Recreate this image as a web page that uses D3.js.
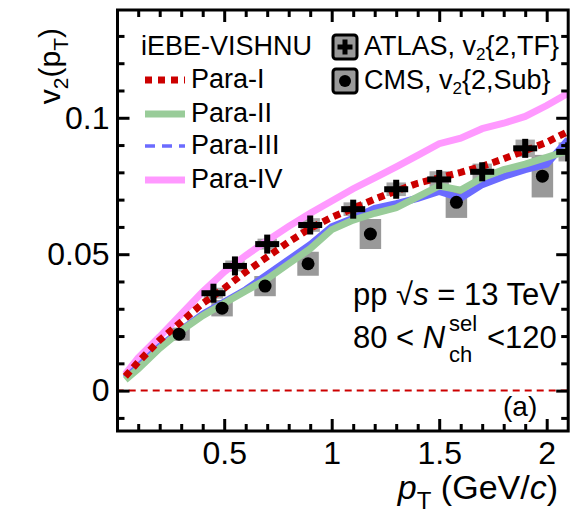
<!DOCTYPE html>
<html>
<head>
<meta charset="utf-8">
<script src="https://cdn.jsdelivr.net/npm/d3@7"></script>
<style>
  body { margin: 0; background: #fff; }
  svg { display: block; font-family: "Liberation Sans", Arial, Helvetica, sans-serif; }
</style>
</head>
<body>
<svg id="chart" width="583" height="518"></svg>
<script>
// iEBE-VISHNU curves, transverse momentum grid (GeV/c)
const modelPt = [0.04, 0.1, 0.2, 0.3, 0.4, 0.5, 0.6, 0.7, 0.8, 0.9, 1.0, 1.1, 1.2, 1.3, 1.4, 1.5, 1.6, 1.7, 1.8, 1.9, 2.0, 2.1];
const paraI   = [0.0052, 0.0105, 0.0185, 0.0252, 0.0320, 0.0375, 0.0435, 0.0490, 0.0545, 0.0595, 0.0635, 0.0668, 0.0702, 0.0732, 0.0760, 0.0780, 0.0800, 0.0822, 0.0850, 0.0880, 0.0910, 0.0950];
const paraII  = [0.0040, 0.0080, 0.0155, 0.0220, 0.0275, 0.0320, 0.0365, 0.0410, 0.0465, 0.0520, 0.0590, 0.0625, 0.0650, 0.0670, 0.0710, 0.0750, 0.0735, 0.0780, 0.0810, 0.0830, 0.0855, 0.0880];
const paraIII = [0.0045, 0.0088, 0.0162, 0.0222, 0.0280, 0.0325, 0.0370, 0.0425, 0.0480, 0.0535, 0.0600, 0.0632, 0.0668, 0.0685, 0.0705, 0.0730, 0.0705, 0.0755, 0.0785, 0.0810, 0.0830, 0.0920];
const paraIV  = [0.0060, 0.0120, 0.0198, 0.0280, 0.0362, 0.0435, 0.0495, 0.0550, 0.0602, 0.0650, 0.0695, 0.0740, 0.0780, 0.0820, 0.0862, 0.0905, 0.0925, 0.0960, 0.0980, 0.1005, 0.1045, 0.1090];

// ATLAS v2{2,TF}
const atlasPt  = [0.45, 0.55, 0.7, 0.9, 1.1, 1.3, 1.5, 1.7, 1.9, 2.1];
const atlasV2  = [0.0357, 0.0457, 0.0537, 0.0607, 0.0665, 0.0738, 0.0774, 0.0802, 0.0888, 0.0875];
const atlasSys = [0.0020, 0.0020, 0.0020, 0.0025, 0.0025, 0.0025, 0.0030, 0.0030, 0.0032, 0.0035];

// CMS v2{2,Sub}
const cmsPt  = [0.29, 0.49, 0.69, 0.89, 1.18, 1.58, 1.98];
const cmsV2  = [0.0207, 0.0302, 0.0383, 0.0465, 0.0574, 0.0690, 0.0786];
const cmsSys = [0.0024, 0.0030, 0.0037, 0.0044, 0.0055, 0.0057, 0.0078];

// axis ticks
const xTickValues = [0.5, 1, 1.5, 2];
const xTickLabels = ["0.5", "1", "1.5", "2"];
const yTickValues = [0, 0.05, 0.1];
const yTickLabels = ["0", "0.05", "0.1"];

const seriesNames = ["Para-I", "Para-II", "Para-III", "Para-IV"];

const svg = d3.select("#chart");
const frame = { left: 117.5, right: 568.2, top: 10, bottom: 431 };

const x = d3.scaleLinear().domain([0, 2.1]).range([116.7, 568.2]);
const y = d3.scaleLinear().domain([-0.0148, 0.1395]).range([431, 10]);

// clip region = plot frame
svg.append("defs").append("clipPath").attr("id", "plotClip")
  .append("rect")
  .attr("x", frame.left).attr("y", frame.top)
  .attr("width", frame.right - frame.left).attr("height", frame.bottom - frame.top);

const plot = svg.append("g").attr("clip-path", "url(#plotClip)");

// zero reference
plot.append("line")
  .attr("x1", x(0)).attr("x2", x(2.1))
  .attr("y1", y(0)).attr("y2", y(0))
  .attr("stroke", "#cc0000").attr("stroke-width", 2)
  .attr("stroke-dasharray", "7,5");

// systematic boxes
plot.selectAll("rect.cmsSys").data(cmsPt).join("rect")
  .attr("class", "cmsSys")
  .attr("x", d => x(d - 0.05))
  .attr("width", d => x(d + 0.05) - x(d - 0.05))
  .attr("y", (d, i) => y(cmsV2[i] + cmsSys[i]))
  .attr("height", (d, i) => y(cmsV2[i] - cmsSys[i]) - y(cmsV2[i] + cmsSys[i]))
  .attr("fill", "#999999");

plot.selectAll("rect.atlasSys").data(atlasPt).join("rect")
  .attr("class", "atlasSys")
  .attr("x", d => x(d - 0.045))
  .attr("width", d => x(d + 0.045) - x(d - 0.045))
  .attr("y", (d, i) => y(atlasV2[i] + atlasSys[i]))
  .attr("height", (d, i) => y(atlasV2[i] - atlasSys[i]) - y(atlasV2[i] + atlasSys[i]))
  .attr("fill", "#a6a6a6");

// model curves
const line = d3.line().x(d => x(d[0])).y(d => y(d[1]));
const curves = [
  { vals: paraIV,  color: "#ff99ff", width: 7, dash: null },
  { vals: paraIII, color: "#6b6bff", width: 7, dash: null },
  { vals: paraII,  color: "#99cc99", width: 7, dash: null },
  { vals: paraI,   color: "#cc0000", width: 7, dash: "7,5" }
];
curves.forEach(c => {
  plot.append("path")
    .datum(modelPt.map((p, i) => [p, c.vals[i]]))
    .attr("d", line)
    .attr("fill", "none")
    .attr("stroke", c.color)
    .attr("stroke-width", c.width)
    .attr("stroke-dasharray", c.dash);
});

// CMS markers
plot.selectAll("circle.cms").data(cmsPt).join("circle")
  .attr("class", "cms")
  .attr("cx", d => x(d)).attr("cy", (d, i) => y(cmsV2[i]))
  .attr("r", 6.5).attr("fill", "#000");

// ATLAS markers (crosses)
const cross = plot.selectAll("g.atlas").data(atlasPt).join("g")
  .attr("class", "atlas")
  .attr("transform", (d, i) => `translate(${x(d)},${y(atlasV2[i])})`);
cross.append("rect").attr("x", -12).attr("y", -3).attr("width", 24).attr("height", 6).attr("fill", "#000");
cross.append("rect").attr("x", -3).attr("y", -9.5).attr("width", 6).attr("height", 19).attr("fill", "#000");

// axes and ticks
const xMinor = d3.range(1, 21).map(i => i / 10).filter(v => !xTickValues.some(t => Math.abs(t - v) < 1e-9));
const yMinor = d3.range(-1, 14).map(i => i / 100).filter(v => !yTickValues.some(t => Math.abs(t - v) < 1e-9));

function styleAxis(g) {
  g.select(".domain").remove();
  g.selectAll(".tick line").attr("stroke", "#000").attr("stroke-width", 3);
  g.selectAll(".tick text").attr("fill", "#000").attr("font-size", 32)
    .attr("font-family", "'Liberation Sans', Arial, sans-serif");
}

svg.append("g").attr("transform", `translate(0,${frame.bottom})`)
  .call(d3.axisBottom(x).tickValues(xTickValues).tickFormat((d, i) => xTickLabels[i])
    .tickSizeInner(-12).tickSizeOuter(0).tickPadding(10))
  .call(styleAxis);
svg.append("g").attr("transform", `translate(0,${frame.bottom})`)
  .call(d3.axisBottom(x).tickValues(xMinor).tickFormat("").tickSizeInner(-7).tickSizeOuter(0))
  .call(styleAxis);
svg.append("g").attr("transform", `translate(0,${frame.top})`)
  .call(d3.axisTop(x).tickValues(xTickValues).tickFormat("").tickSizeInner(-12).tickSizeOuter(0))
  .call(styleAxis);
svg.append("g").attr("transform", `translate(0,${frame.top})`)
  .call(d3.axisTop(x).tickValues(xMinor).tickFormat("").tickSizeInner(-7).tickSizeOuter(0))
  .call(styleAxis);

svg.append("g").attr("transform", `translate(${frame.left},0)`)
  .call(d3.axisLeft(y).tickValues(yTickValues).tickFormat((d, i) => yTickLabels[i])
    .tickSizeInner(-12).tickSizeOuter(0).tickPadding(8))
  .call(styleAxis);
svg.append("g").attr("transform", `translate(${frame.left},0)`)
  .call(d3.axisLeft(y).tickValues(yMinor).tickFormat("").tickSizeInner(-7).tickSizeOuter(0))
  .call(styleAxis);
svg.append("g").attr("transform", `translate(${frame.right},0)`)
  .call(d3.axisRight(y).tickValues(yTickValues).tickFormat("").tickSizeInner(-12).tickSizeOuter(0))
  .call(styleAxis);
svg.append("g").attr("transform", `translate(${frame.right},0)`)
  .call(d3.axisRight(y).tickValues(yMinor).tickFormat("").tickSizeInner(-7).tickSizeOuter(0))
  .call(styleAxis);

// frame
svg.append("rect")
  .attr("x", frame.left).attr("y", frame.top)
  .attr("width", frame.right - frame.left).attr("height", frame.bottom - frame.top)
  .attr("fill", "none").attr("stroke", "#000").attr("stroke-width", 3);

// axis titles
const xTitle = svg.append("text")
  .attr("x", 558).attr("y", 499).attr("text-anchor", "end")
  .attr("font-size", 34).attr("fill", "#000");
xTitle.append("tspan").attr("font-style", "italic").text("p");
xTitle.append("tspan").attr("font-size", 24).attr("dy", 10).text("T");
xTitle.append("tspan").attr("dy", -10).text(" (GeV/");
xTitle.append("tspan").attr("font-style", "italic").text("c");
xTitle.append("tspan").text(")");

const yTitle = svg.append("text")
  .attr("transform", "translate(60,28) rotate(-90)")
  .attr("text-anchor", "end")
  .attr("font-size", 30).attr("fill", "#000");
yTitle.append("tspan").text("v");
yTitle.append("tspan").attr("font-size", 21).attr("dy", 8).text("2");
yTitle.append("tspan").attr("dy", -8).text("(p");
yTitle.append("tspan").attr("font-size", 21).attr("dy", 8).text("T");
yTitle.append("tspan").attr("dy", -8).text(")");

// legend: model curves
const legFont = 27;
svg.append("text").attr("x", 141).attr("y", 55).attr("font-size", legFont).attr("fill", "#000").text("iEBE-VISHNU");
const legRows = [
  { name: seriesNames[0], color: "#cc0000", width: 7, dash: "7,6", yy: 80 },
  { name: seriesNames[1], color: "#99cc99", width: 7, dash: null, yy: 114 },
  { name: seriesNames[2], color: "#6b6bff", width: 3.5, dash: "10,7", yy: 146 },
  { name: seriesNames[3], color: "#ff99ff", width: 7, dash: null, yy: 180 }
];
legRows.forEach(r => {
  svg.append("line").attr("x1", 145).attr("x2", 185).attr("y1", r.yy).attr("y2", r.yy)
    .attr("stroke", r.color).attr("stroke-width", r.width).attr("stroke-dasharray", r.dash);
  svg.append("text").attr("x", 191).attr("y", r.yy + 8).attr("font-size", legFont)
    .attr("fill", "#000").text(r.name);
});

// legend: data
function dataLegend(yTop, kind, label1, label2) {
  svg.append("rect").attr("x", 333).attr("y", yTop).attr("width", 24).attr("height", 24)
    .attr("rx", 3).attr("fill", "#999999").attr("stroke", "#000").attr("stroke-width", 3);
  if (kind === "cross") {
    svg.append("rect").attr("x", 337.5).attr("y", yTop + 9.5).attr("width", 15).attr("height", 5).attr("fill", "#000");
    svg.append("rect").attr("x", 342.5).attr("y", yTop + 4.5).attr("width", 5).attr("height", 15).attr("fill", "#000");
  } else {
    svg.append("circle").attr("cx", 345).attr("cy", yTop + 12).attr("r", 6).attr("fill", "#000");
  }
  const t = svg.append("text").attr("x", 364).attr("y", yTop + 20).attr("font-size", legFont).attr("fill", "#000");
  t.append("tspan").text(label1 + ", v");
  t.append("tspan").attr("font-size", 17).attr("dy", 5).text("2");
  t.append("tspan").attr("dy", -5).text(label2);
}
dataLegend(35, "cross", "ATLAS", "{2,TF}");
dataLegend(69, "circle", "CMS", "{2,Sub}");

// event selection annotation
const a1 = svg.append("text").attr("x", 353).attr("y", 305).attr("font-size", 31).attr("fill", "#000");
a1.append("tspan").text("pp ");
a1.append("tspan").text("\u221A");
a1.append("tspan").attr("font-style", "italic").text("s");
a1.append("tspan").text(" = 13 TeV");

const a2 = svg.append("text").attr("x", 353).attr("y", 348).attr("font-size", 31).attr("fill", "#000");
a2.append("tspan").text("80 < ");
a2.append("tspan").attr("font-style", "italic").text("N");
svg.append("text").attr("x", 449).attr("y", 362).attr("font-size", 22).attr("fill", "#000").text("ch");
svg.append("text").attr("x", 449).attr("y", 331).attr("font-size", 22).attr("fill", "#000").text("sel");
svg.append("text").attr("x", 487).attr("y", 348).attr("font-size", 31).attr("fill", "#000").text("<120");

svg.append("text").attr("x", 503).attr("y", 416).attr("font-size", 28).attr("fill", "#000").text("(a)");
</script>
</body>
</html>
